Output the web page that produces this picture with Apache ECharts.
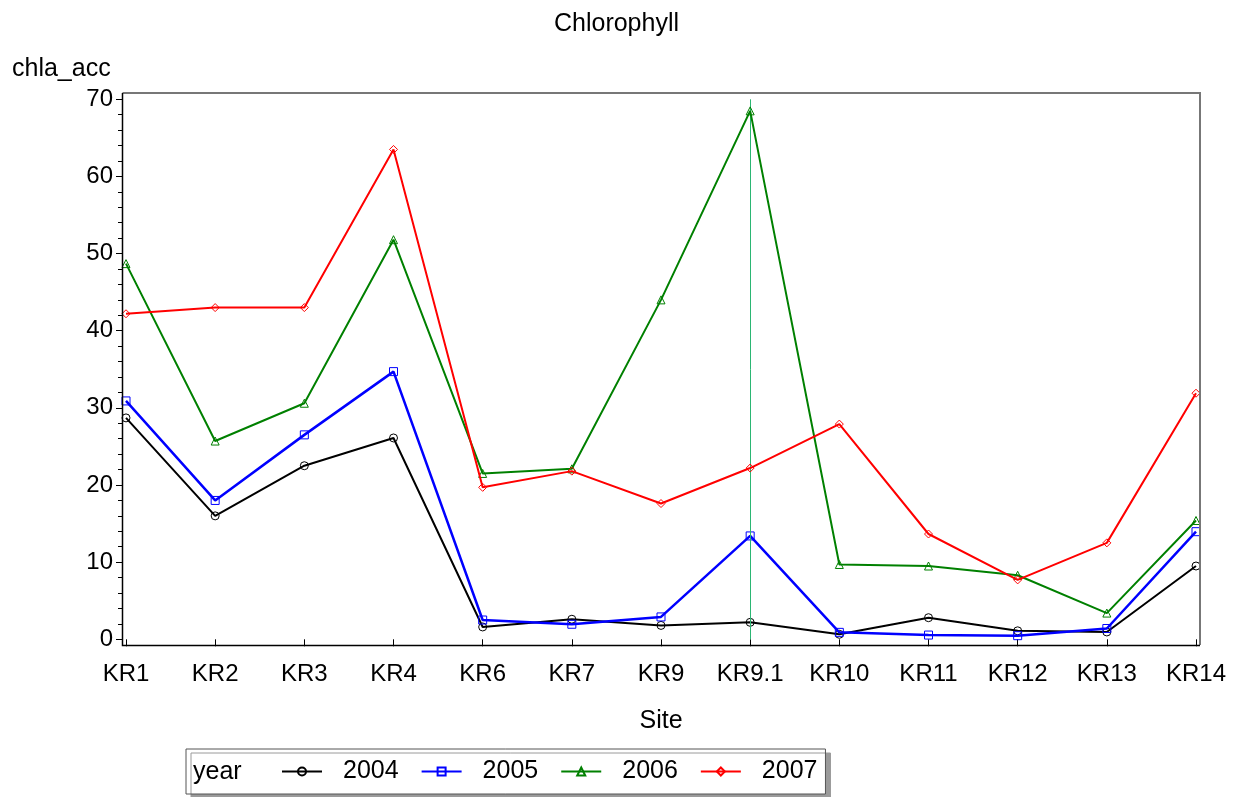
<!DOCTYPE html>
<html>
<head>
<meta charset="utf-8">
<script src="https://cdn.jsdelivr.net/npm/echarts@6/dist/echarts.min.js"></script>
<style>html,body{margin:0;padding:0;background:#fff}#c{width:1233px;height:797px}</style>
</head>
<body>
<div id="c"></div>
<script>
const sites = ['KR1','KR2','KR3','KR4','KR6','KR7','KR9','KR9.1','KR10','KR11','KR12','KR13','KR14'];
const years = ['2004','2005','2006','2007'];
const v2004 = [28.7, 16.0, 22.5, 26.1, 1.6, 2.6, 1.8, 2.2, 0.65, 2.8, 1.1, 0.95, 9.5];
const v2005 = [30.9, 18.0, 26.5, 34.7, 2.5, 1.95, 2.9, 13.4, 0.9, 0.55, 0.47, 1.4, 13.95];
const v2006 = [48.7, 25.7, 30.6, 51.8, 21.5, 22.1, 44.0, 68.5, 9.7, 9.5, 8.3, 3.4, 15.4];
const v2007 = [42.2, 43.0, 43.0, 63.5, 19.7, 21.8, 17.6, 22.2, 27.9, 13.65, 7.7, 12.5, 31.9];
const refSite = 'KR9.1';
const yTicks = [0, 10, 20, 30, 40, 50, 60, 70];

const FONT = '"Liberation Sans", Arial, sans-serif';
const values = [v2004, v2005, v2006, v2007];
const colors = ['#000000', '#0000ff', '#008000', '#ff0000'];
const symbols = ['circle', 'rect', 'triangle', 'diamond'];
const symSizes = [8, 8, 8, 8];
const widths = [2, 2.5, 2, 2];

const series = years.map((y, i) => ({
  name: y,
  type: 'line',
  data: values[i],
  symbol: symbols[i],
  symbolSize: symSizes[i],
  showSymbol: true,
  lineStyle: { color: colors[i], width: widths[i] },
  itemStyle: { color: 'rgba(255,255,255,0)', borderColor: colors[i], borderWidth: 1 },
  emphasis: { disabled: true },
  animation: false,
  z: 3 + i
}));
series[2].markLine = {
  silent: true,
  symbol: ['none', 'none'],
  label: { show: false },
  lineStyle: { color: '#2bb673', width: 1, type: 'solid' },
  animation: false,
  data: [{ xAxis: refSite }]
};

const chart = echarts.init(document.getElementById('c'), null, { renderer: 'canvas' });
chart.setOption({
  backgroundColor: '#ffffff',
  animation: false,
  title: {
    text: 'Chlorophyll',
    left: 'center',
    top: 7,
    textStyle: { fontFamily: FONT, fontSize: 25, fontWeight: 'normal', color: '#000' }
  },
  grid: { left: 126, right: 37, top: 99.3, bottom: 157.7, containLabel: false },
  xAxis: {
    type: 'category',
    data: sites,
    boundaryGap: false,
    offset: 5.7,
    axisLine: { show: false },
    axisTick: { show: true, length: 7, lineStyle: { color: '#000', width: 1 } },
    axisLabel: { fontFamily: FONT, fontSize: 24, color: '#000', margin: 17, interval: 0 },
    splitLine: { show: false },
    name: 'Site',
    nameLocation: 'middle',
    nameGap: 64,
    nameTextStyle: { fontFamily: FONT, fontSize: 25, color: '#000' }
  },
  yAxis: {
    type: 'value',
    min: 0,
    max: 70,
    interval: 10,
    offset: 4,
    axisLine: { show: false },
    axisTick: { show: true, length: 6, lineStyle: { color: '#000', width: 1 } },
    minorTick: { show: true, splitNumber: 5, length: 4, lineStyle: { color: '#000', width: 1 } },
    axisLabel: { fontFamily: FONT, fontSize: 24, color: '#000', margin: 9,
      customValues: yTicks },
    splitLine: { show: false }
  },
  legend: {
    data: years,
    left: 186,
    top: 749,
    orient: 'horizontal',
    itemWidth: 40,
    itemHeight: 10,
    itemGap: 22,
    padding: [10, 8, 10, 95],
    backgroundColor: '#ffffff',
    borderColor: '#555',
    borderWidth: 1,
    shadowColor: '#9a9a9a',
    shadowBlur: 0,
    shadowOffsetX: 5,
    shadowOffsetY: 4,
    selectedMode: false,
    textStyle: { fontFamily: FONT, fontSize: 25, color: '#000', padding: [0, 0, 0, 16] }
  },
  graphic: [
    { type: 'polyline', silent: true, z: 10,
      shape: { points: [[122.5, 93], [1200, 93], [1200, 645]] },
      style: { stroke: '#777', lineWidth: 2, fill: null } },
    { type: 'polyline', silent: true, z: 11,
      shape: { points: [[122.5, 93], [122.5, 645.5], [1200, 645.5]] },
      style: { stroke: '#000', lineWidth: 1.5, fill: null } },
    { type: 'text', silent: true, left: 12, top: 57,
      style: { text: 'chla_acc', font: '25px ' + FONT, fill: '#000' } },
    { type: 'text', silent: true, left: 193, top: 760, z: 100,
      style: { text: 'year', font: '25px ' + FONT, fill: '#000' } }
  ],
  series: series
});
</script>
</body>
</html>
